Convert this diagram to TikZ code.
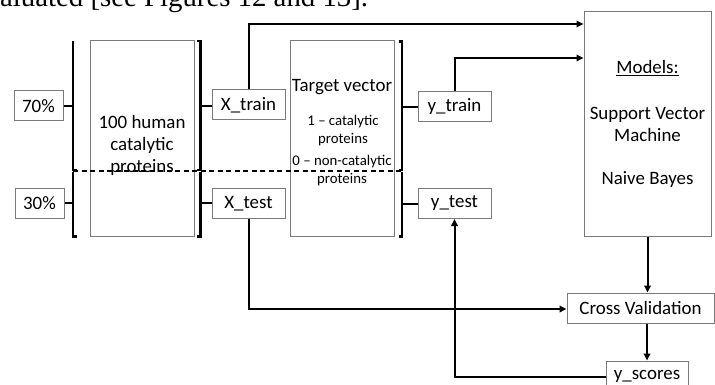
\documentclass[tikz,border=0pt]{standalone}
\usepackage{fontspec}
\setmainfont{Carlito}
\newfontfamily\bodyserif{Liberation Serif}
\usetikzlibrary{arrows.meta}
\definecolor{boxgray}{HTML}{7A7A7A}
\begin{document}
\begin{tikzpicture}[x=1pt,y=-1pt,
  box/.style={draw=boxgray,line width=1pt,minimum height=30pt,inner sep=0pt,font=\fontsize{18.9}{22}\selectfont},
  bigbox/.style={draw=boxgray,line width=1pt,inner sep=0pt,align=center},
  wire/.style={line width=2pt,line join=miter},
  arr/.style={wire,-{Triangle[length=7pt,width=6.5pt]}},
  brace/.style={line width=2.6pt,line join=miter},
  tick/.style={line width=2pt},
  split/.style={line width=1.2pt,dash pattern=on 5pt off 3.5pt}]
\useasboundingbox (0,0) rectangle (715,385);
\clip (0,0) rectangle (715,385);

% running text of the page above the figure
\node[anchor=base west,inner sep=0pt,font=\bodyserif\fontsize{28.8}{30}\selectfont] (caption) at (0,7) {aluated [see Figures 12 and 13].};

% split percentages
\node[box,minimum width=49pt] (p70) at (38.5,106) {70\%};
\node[box,minimum width=49pt] (p30) at (39.5,203) {30\%};

% dataset
\node[bigbox,minimum width=104pt,minimum height=195pt] (data) at (142,138.5) {};
\node[align=center,inner sep=0pt,font=\fontsize{18.9}{22}\selectfont] (datatxt) at (142,145) {100 human\\catalytic\\proteins};

% target vector
\node[bigbox,minimum width=104pt,minimum height=195pt] (tgt) at (342,138.5) {};
\node[inner sep=0pt,font=\fontsize{18.9}{22}\selectfont] (tgttitle) at (342,87) {Target vector};
\node[align=center,inner sep=0pt,font=\fontsize{14.8}{18}\selectfont] (tgtone) at (343,131) {1 -- catalytic\\proteins};
\node[align=center,inner sep=0pt,font=\fontsize{14.8}{18}\selectfont] (tgtzero) at (342,171) {0 -- non-catalytic\\proteins};

% feature / label parts
\node[box,minimum width=73pt] (xtr) at (248.5,105) {X\_train};
\node[box,minimum width=73pt] (xte) at (248.5,203.5) {X\_test};
\node[box,minimum width=73pt] (ytr) at (454.5,107) {y\_train};
\node[box,minimum width=73pt] (yte) at (454.5,203.5) {y\_test};

% models
\node[bigbox,minimum width=127pt,minimum height=224pt] (models) at (647.5,124) {};
\node[inner sep=0pt,font=\fontsize{18.9}{22}\selectfont] (mtitle) at (647.5,68) {\underline{Models:}};
\node[align=center,inner sep=0pt,font=\fontsize{18.9}{22}\selectfont] (msvm) at (647.5,124) {Support Vector\\Machine};
\node[inner sep=0pt,font=\fontsize{18.9}{22}\selectfont] (mnb) at (647.5,180) {Naive Bayes};

% evaluation
\node[box,minimum width=147pt] (cv) at (640.5,308) {Cross Validation};
\node[box,minimum width=82pt,minimum height=31pt] (ysc) at (647,376.5) {y\_scores};

% brackets
\coordinate (lb) at (73,0);
\coordinate (rb) at (200.5,0);
\coordinate (tb) at (402,0);
\draw[brace] (73,41) -- (73,170) -- (76.5,170);
\draw[brace] (73,172) -- (73,236.5) -- (76.5,236.5);
\draw[brace] (197,41) -- (200.5,41) -- (200.5,170) -- (197,170);
\draw[brace] (200.5,172) -- (200.5,236.5) -- (197,236.5);
\draw[brace] (398.5,41.5) -- (402,41.5) -- (402,170) -- (398.5,170);
\draw[brace] (402,172) -- (402,236.5) -- (398.5,236.5);

% 70/30 split line
\draw[split] (73,171) -- (402,171);

% bracket ticks
\draw[tick] (p70.east) -- (p70.east -| lb);
\draw[tick] (p30.east) -- (p30.east -| lb);
\draw[tick] (xtr.west |- p70.east) -- (rb |- p70.east);
\draw[tick] (xte.west |- p30.east) -- (rb |- p30.east);
\draw[tick] (ytr.west) -- (ytr.west -| tb);
\draw[tick] (yte.west) -- (yte.west -| tb);

% connectors
\draw[arr] (xtr.north) -- (248.5,24) -- (models.west |- 0,24);
\draw[arr] (ytr.north) -- (454.5,58) -- (models.west |- 0,58);
\draw[arr] (xte.south) -- (248.5,309) -- (cv.west |- 0,309);
\draw[arr] (models.south) -- (models.south |- cv.north);
\draw[arr] (cv.south -| ysc.north) -- (ysc.north);
\draw[arr] (ysc.west |- 0,377) -- (454.5,377) -- (yte.south);
\end{tikzpicture}
\end{document}
